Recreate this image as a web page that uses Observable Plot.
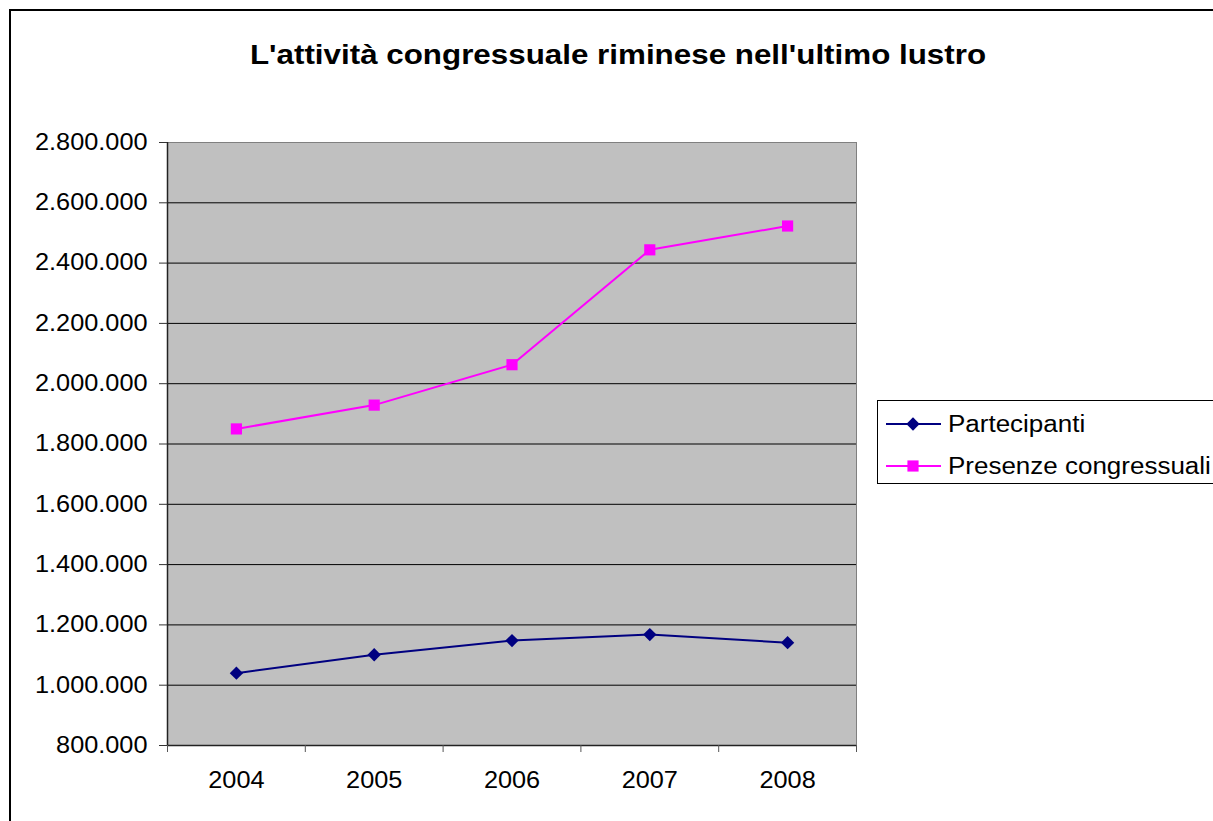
<!DOCTYPE html>
<html>
<head>
<meta charset="utf-8">
<script src="https://cdn.jsdelivr.net/npm/d3@7"></script>
<script src="https://cdn.jsdelivr.net/npm/@observablehq/plot@0.6"></script>
<style>
  html, body { margin: 0; padding: 0; background: #fff; overflow: hidden; }
  #page { position: relative; width: 1213px; height: 821px; overflow: hidden; }
  #page > * { position: absolute; left: 0; top: 0; }
  #edge { left: 9px; top: 9px; width: 1300px; height: 900px;
          border-left: 2px solid #000; border-top: 2px solid #000; }
</style>
</head>
<body>
<div id="page"><div id="edge"></div></div>
<script>
// Rimini congress activity, 2004–2008
const years = [2004, 2005, 2006, 2007, 2008];
const partecipanti = [1040000, 1101000, 1148000, 1168000, 1141000];
const presenze = [1850000, 1929000, 2063000, 2444000, 2523000];
const yTicks = [800000, 1000000, 1200000, 1400000, 1600000, 1800000, 2000000, 2200000, 2400000, 2600000, 2800000];
const seriesNames = ["Partecipanti", "Presenze congressuali"];
const seriesColors = ["#000080", "#FF00FF"];
const seriesSymbols = ["diamond2", "square"];
const title = "L'attività congressuale riminese nell'ultimo lustro";

const FONT = "'Liberation Sans', Arial, Helvetica, sans-serif";
const STRETCH = 1.1;

const partRows = years.map((year, i) => ({year, value: partecipanti[i]}));
const presRows = years.map((year, i) => ({year, value: presenze[i]}));
const bounds = [...years.map(y => y - 0.5), years[years.length - 1] + 0.5];

const fmt = d3.formatLocale({decimal: ",", thousands: ".", grouping: [3], currency: ["", "€"]}).format(",d");

const chart = Plot.plot({
  width: 1213,
  height: 821,
  marginLeft: 167,
  marginRight: 357,
  marginTop: 142,
  marginBottom: 76,
  style: {fontFamily: FONT, fontSize: "23px", color: "#000", background: "transparent", overflow: "visible"},
  x: {type: "linear", domain: [bounds[0], bounds[bounds.length - 1]]},
  y: {domain: [yTicks[0], yTicks[yTicks.length - 1]]},
  marks: [
    Plot.frame({fill: "#C0C0C0", stroke: "#808080"}),
    Plot.ruleY(yTicks.slice(1, -1), {stroke: "#000", strokeWidth: 1}),
    Plot.ruleY([yTicks[0]], {stroke: "#222", strokeWidth: 1.5}),
    Plot.ruleX([bounds[0]], {stroke: "#222", strokeWidth: 1.5}),
    Plot.axisY({ticks: yTicks, tickFormat: fmt, tickSize: 8, tickPadding: 12, label: null, stroke: "#333"}),
    Plot.axisX({ticks: bounds, tickSize: 7, tickFormat: () => "", label: null, stroke: "#555"}),
    Plot.axisX({ticks: years, tickSize: 0, tickPadding: 26, tickFormat: d => String(d), label: null}),
    Plot.line(partRows, {x: "year", y: "value", stroke: seriesColors[0], strokeWidth: 2}),
    Plot.dot(partRows, {x: "year", y: "value", symbol: seriesSymbols[0], r: 6, fill: seriesColors[0]}),
    Plot.line(presRows, {x: "year", y: "value", stroke: seriesColors[1], strokeWidth: 2}),
    Plot.dot(presRows, {x: "year", y: "value", symbol: seriesSymbols[1], r: 6.3, fill: seriesColors[1]})
  ]
});

// widen tick labels slightly, keeping each label's anchor in place
chart.querySelectorAll("text").forEach(t => {
  const tr = t.getAttribute("transform");
  if (tr && tr.startsWith("translate")) t.setAttribute("transform", `${tr} scale(${STRETCH},1)`);
});
document.getElementById("page").appendChild(chart);

// title and legend
const overlay = d3.create("svg")
  .attr("width", 1213).attr("height", 821)
  .style("font-family", FONT);

overlay.append("text")
  .attr("transform", `translate(618,64) scale(1.12,1)`)
  .attr("text-anchor", "middle")
  .attr("font-weight", "bold")
  .attr("font-size", 28)
  .text(title);

const legend = overlay.append("g");
legend.append("rect")
  .attr("x", 877.5).attr("y", 400.5).attr("width", 400).attr("height", 83)
  .attr("fill", "#fff").attr("stroke", "#000");

const symbolTypes = {diamond2: d3.symbolDiamond2, square: d3.symbolSquare};
const radii = [6, 6.3];
seriesNames.forEach((name, i) => {
  const cy = 424 + i * 42;
  const row = legend.append("g");
  row.append("line")
    .attr("x1", 886).attr("x2", 941).attr("y1", cy).attr("y2", cy)
    .attr("stroke", seriesColors[i]).attr("stroke-width", 2);
  row.append("path")
    .attr("transform", `translate(913,${cy})`)
    .attr("d", d3.symbol(symbolTypes[seriesSymbols[i]], Math.PI * radii[i] * radii[i])())
    .attr("fill", seriesColors[i]);
  row.append("text")
    .attr("transform", `translate(948,${cy + 8}) scale(1.13,1)`)
    .attr("font-size", 23)
    .text(name);
});

document.getElementById("page").appendChild(overlay.node());
</script>
</body>
</html>
